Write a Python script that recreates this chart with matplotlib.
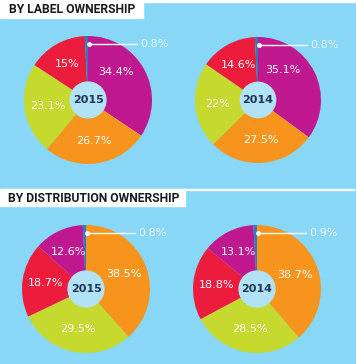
import numpy as np
import matplotlib.pyplot as plt
from matplotlib.patches import Rectangle, Circle

# data
top_title = "BY LABEL OWNERSHIP"
bottom_title = "BY DISTRIBUTION OWNERSHIP"
years = ["2015", "2014"]

label_2015 = [34.4, 26.7, 23.1, 15, 0.8]
label_2014 = [35.1, 27.5, 22, 14.6, 0.8]
dist_2015 = [38.5, 29.5, 18.7, 12.6, 0.8]
dist_2014 = [38.7, 28.5, 18.8, 13.1, 0.9]

MAG, ORA, GRN, RED, BLU = '#c0198f', '#f7941e', '#c5d92e', '#ec1c3c', '#2a7cc0'
label_colors = [MAG, ORA, GRN, RED, BLU]
dist_colors = [ORA, GRN, RED, MAG, BLU]

BG = '#88d7f7'
HOLE = '#b2e2f6'
NAVY = '#1d3550'

W, H = 356, 364
fig = plt.figure(figsize=(W / 100, H / 100), dpi=100)
fig.patch.set_facecolor(BG)
ax = fig.add_axes([0, 0, 1, 1])
ax.set_facecolor(BG)


def Y(y):
    # pixel row -> data y
    return H - y


def fmt(p):
    p = round(p, 1)
    return '' if p < 1 else f'{p:g}%'


def donut(vals, colors, cx, cy, r, year, first_angle=None):
    wedges, _, autotexts = ax.pie(vals, colors=colors, startangle=90, counterclock=False,
                                  center=(cx, Y(cy)), radius=r, frame=True,
                                  autopct=fmt, pctdistance=0.64,
                                  wedgeprops=dict(linewidth=0),
                                  textprops=dict(color='white', fontsize=8))
    if first_angle is not None:
        # first label sits a bit higher, clear of the leader line
        a = np.radians(first_angle)
        autotexts[0].set_position((cx + 0.62 * r * np.sin(a), Y(cy) + 0.62 * r * np.cos(a)))
    ax.add_patch(Circle((cx, Y(cy)), r * 0.28, color=HOLE, zorder=3))
    ax.text(cx, Y(cy), year, ha='center', va='center', fontsize=8,
            fontweight='bold', color=NAVY, zorder=4)
    # leader for the small slice
    dy = cy - r * 0.875
    ax.plot([cx + 1, cx + 49], [Y(dy), Y(dy)], color='white', lw=1, zorder=4)
    ax.plot([cx + 1], [Y(dy)], 'o', color='white', ms=2.5, zorder=5)
    ax.text(cx + 52, Y(dy), f'{vals[-1]:g}%', ha='left', va='center',
            fontsize=8, color='#e8f6fd', zorder=5)


donut(label_2015, label_colors, 88, 100, 64, years[0], first_angle=45)
donut(label_2014, label_colors, 258, 100, 63, years[1], first_angle=40)
donut(dist_2015, dist_colors, 86, 289, 64, years[0])
donut(dist_2014, dist_colors, 257, 289, 64, years[1])

# title bars
ax.add_patch(Rectangle((0, Y(1.5)), W, 1.5, color='white', zorder=6))
ax.add_patch(Rectangle((0, Y(18)), 143, 18, color='white', zorder=6))
ax.text(9, Y(9.5), top_title, ha='left', va='center', fontsize=8.75,
        fontweight='bold', family='Roboto', color='#1a1a1a', zorder=7)

ax.add_patch(Rectangle((0, Y(190)), 354, 1.5, color='white', zorder=6))
ax.add_patch(Rectangle((0, Y(206)), 185, 17, color='white', zorder=6))
ax.text(8, Y(198), bottom_title, ha='left', va='center', fontsize=8.75,
        fontweight='bold', family='Roboto', color='#1a1a1a', zorder=7)

ax.set_xlim(0, W)
ax.set_ylim(0, H)
ax.set_aspect('equal')
ax.axis('off')

plt.savefig('out.png', dpi=100, facecolor=BG)
